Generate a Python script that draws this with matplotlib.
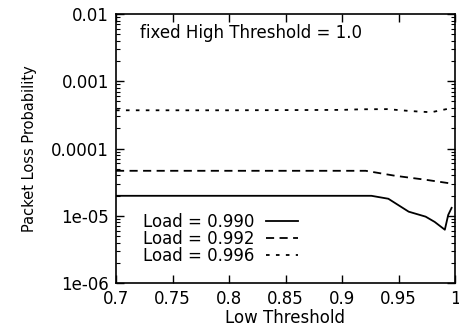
import matplotlib
matplotlib.use("Agg")
import matplotlib.pyplot as plt
from matplotlib.ticker import LogLocator, NullFormatter, FixedLocator

# Data
x_990 = [0.70, 0.80, 0.90, 0.926, 0.941, 0.959, 0.974, 0.982, 0.991, 0.994, 0.997]
y_990 = [1.98e-5, 1.98e-5, 1.98e-5, 1.98e-5, 1.79e-5, 1.15e-5, 9.7e-6, 8.1e-6, 6.2e-6, 1.03e-5, 1.31e-5]

x_992 = [0.70, 0.80, 0.90, 0.921, 0.947, 0.974, 0.998]
y_992 = [4.66e-5, 4.66e-5, 4.66e-5, 4.66e-5, 3.93e-5, 3.43e-5, 2.99e-5]

x_996 = [0.70, 0.80, 0.90, 0.917, 0.94, 0.961, 0.979, 0.994, 0.998]
y_996 = [3.7e-4, 3.7e-4, 3.75e-4, 3.83e-4, 3.85e-4, 3.6e-4, 3.46e-4, 3.9e-4, 4.1e-4]

labels = ["Load = 0.990", "Load = 0.992", "Load = 0.996"]
xticks = [0.7, 0.75, 0.8, 0.85, 0.9, 0.95, 1.0]
xticklabels = ["0.7", "0.75", "0.8", "0.85", "0.9", "0.95", "1"]
yticks = [1e-6, 1e-5, 1e-4, 1e-3, 1e-2]
yticklabels = ["1e-06", "1e-05", "0.0001", "0.001", "0.01"]

plt.rcParams['font.family'] = ['DejaVu Sans']
fig = plt.figure(figsize=(4.6, 3.32), dpi=100)
ax = fig.add_axes([116/460, 1 - 283/332, 339/460, 269/332])

ax.plot(x_990, y_990, color='black', lw=1.3, ls='-', label=labels[0])
ax.plot(x_992, y_992, color='black', lw=1.3, ls=(0, (4.5, 3)), label=labels[1])
ax.plot(x_996, y_996, color='black', lw=1.3, ls=(0, (2, 3.5)), label=labels[2])

ax.set_yscale('log')
ax.set_xlim(0.7, 1.0)
ax.set_ylim(1e-6, 1e-2)
ax.set_xticks(xticks)
ax.set_xticklabels(xticklabels)
ax.yaxis.set_major_locator(FixedLocator(yticks))
ax.set_yticklabels(yticklabels)
ax.yaxis.set_minor_locator(LogLocator(base=10, subs=range(2, 10)))
ax.yaxis.set_minor_formatter(NullFormatter())
ax.tick_params(which='major', direction='in', length=6, width=1, top=True, right=True, labelsize=12, pad=5)
ax.tick_params(which='minor', direction='in', length=3, width=0.8, top=True, right=True)
for s in ax.spines.values():
    s.set_linewidth(1.2)

ax.set_xlabel("Low Threshold", fontsize=12, labelpad=1)
ax.set_ylabel("Packet Loss Probability", fontsize=10.5, labelpad=10)
ax.text(24/339, 1 - 19/269, "fixed High Threshold = 1.0", transform=ax.transAxes,
        fontsize=12, va='center', ha='left')

leg = ax.legend(loc='lower left', bbox_to_anchor=(27/339, 18/269), frameon=False, markerfirst=False,
                fontsize=12, handlelength=1.9, labelspacing=-0.05, handletextpad=0.7,
                borderaxespad=0, borderpad=0)

fig.savefig("out.png", dpi=100)
